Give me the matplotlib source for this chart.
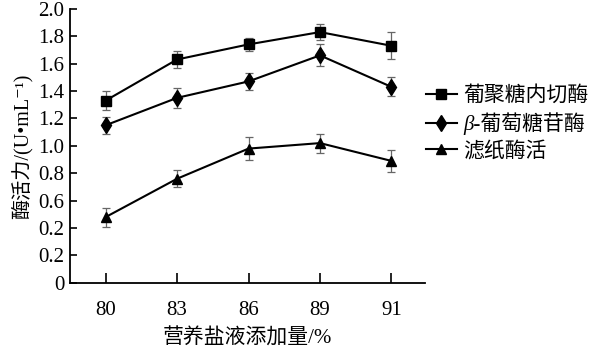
import numpy as np
import matplotlib
matplotlib.use("Agg")
import matplotlib.pyplot as plt

plt.rcParams['font.family'] = ['Liberation Serif', 'Noto Sans CJK SC', 'DejaVu Serif']

# data
x_labels = ['80', '83', '86', '89', '91']
y_ticks = [0, 0.2, 0.4, 0.6, 0.8, 1.0, 1.2, 1.4, 1.6, 1.8, 2.0]
y_tick_labels = ['0', '0.2', '0.2', '0.6', '0.8', '1.0', '1.2', '1.4', '1.6', '1.8', '2.0']

endo = [1.33, 1.63, 1.74, 1.83, 1.73]
endo_err = [0.07, 0.06, 0.045, 0.057, 0.10]
beta = [1.15, 1.35, 1.47, 1.66, 1.43]
beta_err = [0.06, 0.073, 0.06, 0.08, 0.07]
fpa = [0.48, 0.76, 0.98, 1.02, 0.89]
fpa_err = [0.07, 0.063, 0.083, 0.07, 0.083]

series = [
    (endo, endo_err, 's', 7, '葡聚糖内切酶'),
    (beta, beta_err, 'd', 8, 'β-葡萄糖苷酶'),
    (fpa, fpa_err, '^', 7.5, '滤纸酶活'),
]

fig = plt.figure(figsize=(5.92, 3.51), dpi=100)
ax = fig.add_axes([0.118, 0.194, 0.600, 0.781])

pos = np.arange(len(x_labels))
handles = []
for vals, errs, mk, ms, lab in series:
    ax.errorbar(pos, vals, yerr=errs, fmt='none', ecolor='#666666',
                elinewidth=0.9, capsize=3, capthick=0.9, zorder=2)
    h, = ax.plot(pos, vals, color='black', lw=1.5, marker=mk, ms=ms,
                 mfc='black', mec='black', zorder=3, label=lab)
    handles.append(h)

ax.set_xlim(-0.5, 4.47)
ax.set_ylim(0, 2.0)
ax.set_xticks(pos)
ax.set_xticklabels(x_labels)
ax.set_yticks(y_ticks)
ax.set_yticklabels(y_tick_labels)
ax.tick_params(direction='in', labelsize=15, width=1.2, color='black')
ax.tick_params(axis='x', length=7, pad=13)
ax.tick_params(axis='y', length=5, pad=4)
for s in ['top', 'right']:
    ax.spines[s].set_visible(False)
for s in ['left', 'bottom']:
    ax.spines[s].set_linewidth(1.3)

ax.set_xlabel('营养盐液添加量/%', fontsize=15, labelpad=6)
ax.set_ylabel('酶活力/(U•mL⁻¹)', fontsize=14.5, labelpad=4)

leg = fig.legend(handles=handles, loc='upper left', bbox_to_anchor=(0.705, 0.778),
                 frameon=False, fontsize=15, handlelength=1.5, handletextpad=0.3,
                 labelspacing=0.3, borderaxespad=0)
# beta in italics (CJK part falls back to the upright face)
leg.get_texts()[1].set_fontstyle('italic')

fig.savefig('out.png', dpi=100)
